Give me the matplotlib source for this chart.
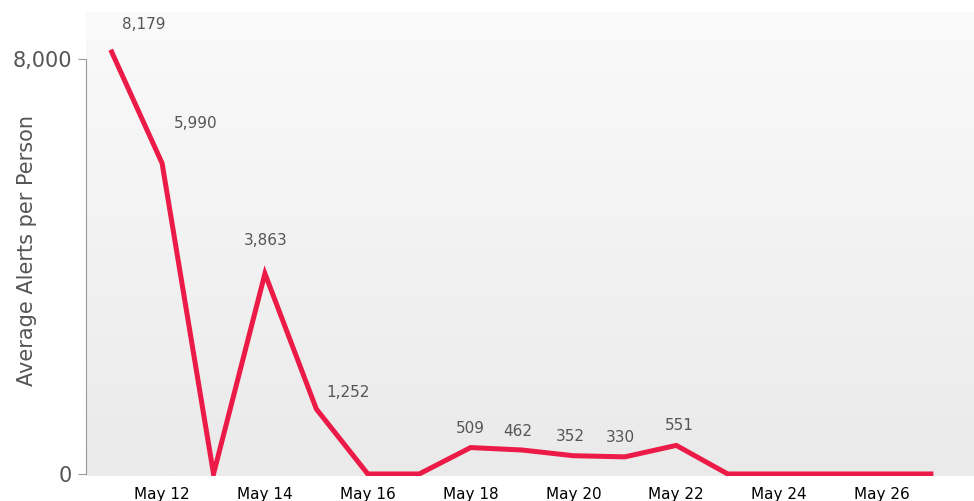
import datetime as dt

import numpy as np
import matplotlib
matplotlib.use("Agg")
import matplotlib.pyplot as plt
import matplotlib.dates as mdates

plt.rcParams['font.family'] = ['DejaVu Sans']

# ----------------------------------------------------------------------
# data
# ----------------------------------------------------------------------
days = list(range(11, 28))  # May 11 .. May 27
alerts = [8179, 5990, 0, 3863, 1252, 0, 0, 509, 462, 352, 330, 551,
          0, 0, 0, 0, 0]
tick_days = [12, 14, 16, 18, 20, 22, 24, 26]

# label offsets (px, y up) so the value labels sit where the original has them
label_offsets = {0: (33, 25), 1: (34, 40), 3: (1, 33), 4: (32, 17),
                 7: (0, 19), 8: (-4, 19), 9: (-3, 19), 10: (-4, 19),
                 11: (3, 20)}

LINE_COLOR = '#ec1a46'
TEXT_GREY = '#555555'

dates = [dt.datetime(2024, 5, d) for d in days]
ticks = [dt.datetime(2024, 5, d) for d in tick_days]

fig = plt.figure(figsize=(9.74, 5.01), dpi=100)
ax = fig.add_axes([86 / 974, 1 - 476 / 501, 1 - 86 / 974, (476 - 12) / 501])

# background gradient, light at the top, a bit darker at the bottom
grad = np.linspace(0, 1, 256).reshape(-1, 1)
ax.imshow(grad, extent=[0, 1, 0, 1], transform=ax.transAxes,
          cmap=matplotlib.colors.LinearSegmentedColormap.from_list(
              'bg', ['#eaeaea', '#fafafa']),
          origin='lower', aspect='auto', zorder=0)

ax.plot(dates, alerts, color=LINE_COLOR, linewidth=3.6,
        solid_joinstyle='miter', solid_capstyle='butt', zorder=3)

for i, (d, v) in enumerate(zip(dates, alerts)):
    if i not in label_offsets:
        continue
    dx, dy = label_offsets[i]
    ax.annotate(f'{v:,}', (d, v), xytext=(dx * 0.72, dy * 0.72),
                textcoords='offset points', ha='center', va='center',
                fontsize=11, color=TEXT_GREY, zorder=4)

x0 = mdates.date2num(dt.datetime(2024, 5, 11))
ax.set_xlim(x0 - 0.48, x0 + 16.79)
ax.set_ylim(-39, 8906)

ax.set_yticks([0, 8000])
ax.set_yticklabels(['0', '8,000'])
ax.set_xticks(ticks)
ax.xaxis.set_major_formatter(mdates.DateFormatter('%b %d'))

for s in ['top', 'right', 'bottom']:
    ax.spines[s].set_visible(False)
ax.spines['left'].set_color('#999999')
ax.spines['left'].set_bounds(0, 8000)
ax.spines['left'].set_zorder(5)

ax.tick_params(axis='y', length=6, color='#999999', labelsize=15,
               labelcolor=TEXT_GREY, pad=4)
ax.tick_params(axis='x', length=0, labelsize=11, labelcolor='black', pad=8)

ax.set_ylabel('Average Alerts per Person', fontsize=15, color=TEXT_GREY)
ax.yaxis.set_label_coords(-0.055, 0.485)

fig.savefig('out.png', dpi=100)
